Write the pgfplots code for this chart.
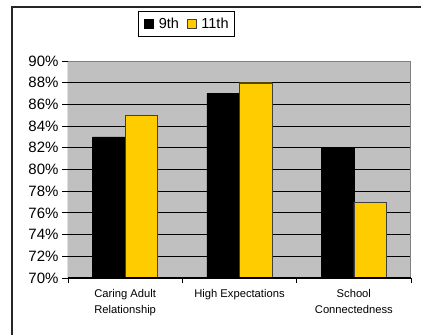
\documentclass[border=0pt]{standalone}
\usepackage{pgfplots}
\pgfplotsset{compat=1.18}
\usepackage{fontspec}
\setmainfont{Liberation Sans}
\definecolor{bgray}{HTML}{C0C0C0}
\definecolor{byellow}{HTML}{FFCC00}
\begin{document}
\begin{tikzpicture}[x=1pt,y=1pt]
\useasboundingbox (0,0) rectangle (421,335);
\fill[white] (0,0) rectangle (421,335);
\draw[line width=1.3pt,color=black!85] (12,0) -- (12,328) -- (421,328);
\begin{axis}[
  at={(68pt,57pt)}, anchor=south west,
  scale only axis, width=343pt, height=217pt,
  xmin=-0.5, xmax=2.5, ymin=70, ymax=90,
  ybar=0pt, bar width=32.5pt,
  axis background/.style={fill=bgray},
  axis line style={draw=none},
  xtick={0,1,2},
  xticklabels={Caring Adult\\Relationship, High Expectations, School\\Connectedness},
  xticklabel style={align=center, font=\fontsize{11.2}{16}\selectfont, yshift=-1.5pt},
  major x tick style={draw=none},
  minor xtick={-0.5,0.5,1.5,2.5},
  minor x tick style={black, line width=0.8pt},
  minor tick length=5pt,
  ytick={70,72,...,90},
  yticklabels={70\%,72\%,74\%,76\%,78\%,80\%,82\%,84\%,86\%,88\%,90\%},
  yticklabel style={font=\fontsize{15}{16}\selectfont},
  major y tick style={black, line width=0.8pt},
  major tick length=6pt,
  tick align=outside, xtick pos=bottom, ytick pos=left,
  ymajorgrids, grid style={black, line width=0.8pt},
  legend columns=2,
  legend style={at={(0.204,1.2304)}, anchor=north west, draw=black, line width=0.6pt,
    font=\fontsize{14.5}{16}\selectfont, inner xsep=6pt, inner ysep=6.5pt,
    nodes={inner sep=0pt},
    /tikz/every odd column/.append style={column sep=5pt},
    /tikz/every even column/.append style={column sep=8pt}},
  legend image code/.code={\draw[#1, line width=0.5pt] (0pt,-4.5pt) rectangle (9pt,4.5pt);},
]
\addplot[fill=black, draw=black] coordinates {(0,83) (1,87) (2,82)};
\addplot[fill=byellow, draw=black!75] coordinates {(0,85) (1,88) (2,77)};
\legend{9th,11th}
\draw[black!50, line width=1pt] (rel axis cs:0,1) -- (rel axis cs:1,1) -- (rel axis cs:1,0);
\draw[black, line width=1pt] (rel axis cs:1,0) -- (rel axis cs:0,0) -- (rel axis cs:0,1);
\end{axis}
\end{tikzpicture}
\end{document}
